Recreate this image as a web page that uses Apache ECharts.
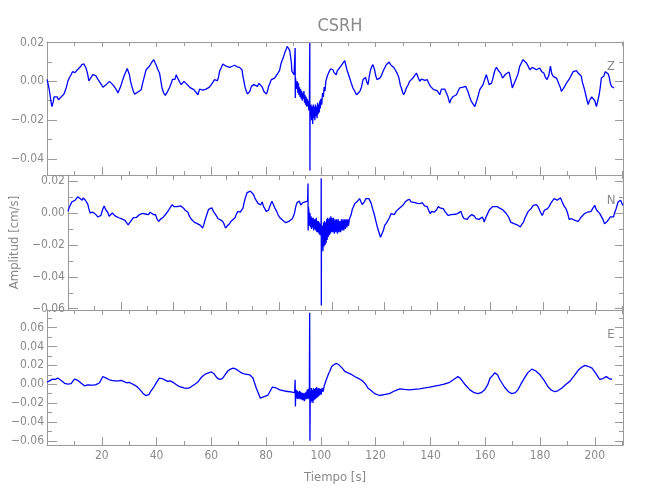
<!DOCTYPE html>
<html>
<head>
<meta charset="utf-8">
<script src="https://cdn.jsdelivr.net/npm/echarts@6/dist/echarts.min.js"></script>
<style>
html,body{margin:0;padding:0;background:#fff;}
#chart{width:650px;height:500px;}
</style>
</head>
<body>
<div id="chart"></div>
<script>
// ---------------- DATA ----------------
const titleText = 'CSRH';
const componentNames = ['Z', 'N', 'E'];
const xLabel = 'Tiempo [s]';
const yLabel = 'Amplitud [cm/s]';
const timeRange = [0, 210.3];
const yRanges = [[-0.0483, 0.0203], [-0.0608, 0.0238], [-0.0645, 0.0787]];

// Z component [time s, amplitude cm/s]
const zTrace = [
[0,0.001],[0.5,-0.002],[0.9,-0.005],[1.4,-0.010],[1.8,-0.013],[2.2,-0.011],[2.6,-0.008],[3.2,-0.009],[3.7,-0.008],[4.2,-0.0095],[4.6,-0.0085],[5.2,-0.008],[5.8,-0.007],[6.2,-0.0065],[6.6,-0.006],[7.1,-0.003],[7.6,0.000],[8.2,0.002],[8.8,0.0034],[9.3,0.005],[9.8,0.0055],[10.2,0.0045],[10.6,0.0042],[11.1,0.006],[11.6,0.0069],[12.2,0.0075],[12.7,0.0086],[13.1,0.0082],[13.5,0.009],[13.9,0.008],[14.3,0.0066],[14.8,0.004],[15.3,0.0003],[15.7,0.001],[16.1,0.002],[16.7,0.0035],[17.4,0.0043],[17.8,0.003],[18.3,0.002],[18.7,0.0008],[19.2,0.000],[19.8,-0.0015],[20.4,-0.003],[21.0,-0.0025],[21.6,-0.0017],[22.2,-0.0012],[22.8,0.000],[23.4,-0.001],[24.0,-0.0017],[24.5,-0.0025],[24.9,-0.0034],[25.4,-0.0045],[25.9,-0.006],[26.5,-0.004],[27.1,-0.0017],[27.7,0.001],[28.3,0.0034],[28.8,0.005],[29.3,0.0066],[29.7,0.005],[30.1,0.0034],[30.5,0.000],[31.0,-0.0026],[31.5,-0.005],[32.0,-0.0066],[32.6,-0.0058],[33.2,-0.0055],[33.8,-0.0048],[34.4,-0.0043],[34.9,-0.001],[35.4,0.0017],[35.8,0.004],[36.2,0.006],[36.8,0.0068],[37.4,0.0078],[37.9,0.0088],[38.3,0.010],[38.7,0.0105],[39.0,0.0112],[39.5,0.0095],[39.9,0.0083],[40.5,0.006],[41.1,0.0043],[41.6,0.000],[42.0,-0.0034],[42.6,-0.006],[43.2,-0.0072],[43.7,-0.0065],[44.1,-0.005],[44.8,-0.003],[45.4,-0.0009],[45.8,0.001],[46.3,0.002],[46.7,0.001],[47.2,0.0034],[47.6,0.002],[48.0,0.0009],[48.5,-0.0005],[49.0,-0.0017],[49.5,-0.0008],[50.0,0.000],[50.6,-0.001],[51.2,-0.0017],[51.8,-0.0025],[52.4,-0.0034],[53.0,-0.004],[53.6,-0.0043],[54.3,-0.005],[55.1,-0.0069],[55.7,-0.004],[56.3,-0.0034],[56.9,-0.0045],[57.5,-0.0038],[58.1,-0.004],[58.7,-0.0043],[59.3,-0.003],[60.0,-0.0017],[60.6,-0.001],[61.2,0.0009],[61.7,0.0005],[62.2,0.0003],[62.6,0.002],[63.0,0.0052],[63.6,0.007],[64.2,0.009],[64.8,0.0085],[65.4,0.0078],[66.0,0.0082],[66.7,0.0072],[67.6,0.0078],[68.5,0.0083],[69.4,0.0075],[70.3,0.0072],[70.8,0.0065],[71.2,0.006],[71.5,0.003],[71.9,0.000],[72.3,-0.003],[72.8,-0.0052],[73.2,-0.0065],[73.6,-0.0072],[74.1,-0.005],[74.6,-0.0026],[75.0,-0.003],[75.5,-0.0017],[76.2,-0.0025],[76.8,-0.0026],[77.4,-0.001],[78.0,-0.0014],[78.6,-0.003],[79.2,-0.0052],[79.7,-0.006],[80.1,-0.0066],[80.5,-0.005],[80.9,-0.0026],[81.4,-0.001],[81.9,0.0009],[82.5,0.0012],[83.1,0.0017],[83.7,0.003],[84.3,0.0034],[84.9,0.0055],[85.5,0.0095],[86.2,0.012],[86.8,0.0147],[87.3,0.0165],[87.7,0.018],[88.2,0.019],[88.6,0.016],[89.0,0.0155],[89.2,0.010],[89.4,0.0052],[89.8,0.0045],[90.2,0.0034],
[90.5,0.003],[90.6,0.0172],[90.65,-0.0086],[90.7,0.002],
[91.0,0.001],[91.2,-0.004],[91.4,0.000],[91.6,-0.006],[91.8,-0.001],[92.0,-0.007],[92.2,-0.003],[92.4,-0.008],[92.6,-0.004],[92.8,-0.009],[93.0,-0.005],[93.2,-0.010],[93.4,-0.006],[93.6,-0.009],[93.8,-0.005],[94.0,-0.011],[94.2,-0.007],[94.4,-0.012],[94.6,-0.008],[94.8,-0.013],[95.0,-0.009],[95.2,-0.013],[95.4,-0.010],[95.6,-0.015],[95.8,-0.011],[95.95,0.0198],[96.0,-0.046],[96.05,-0.012],[96.2,-0.018],[96.4,-0.012],[96.6,-0.020],[96.8,-0.013],[97.0,-0.022],[97.2,-0.012],[97.4,-0.019],[97.6,-0.013],[97.8,-0.020],[98.0,-0.012],[98.2,-0.018],[98.4,-0.013],[98.6,-0.019],[98.8,-0.011],[99.0,-0.017],[99.2,-0.012],[99.4,-0.016],[99.6,-0.010],[99.8,-0.014],[100.0,-0.009],[100.3,-0.012],[100.6,-0.006],[100.9,-0.008],[101.2,-0.003],[101.5,-0.005],[101.8,0.000],[102.1,-0.001],[102.4,0.003],[102.7,0.002],[103.0,0.005],[103.3,0.004],[103.6,0.0065],[104.0,0.0055],[104.4,0.006],[104.8,0.0045],[105.2,0.005],[105.6,0.0034],[106.0,0.0055],[106.4,0.005],[106.8,0.0069],[107.2,0.0065],[107.6,0.0085],[108.1,0.0095],[108.7,0.0107],
[109.5,0.006],[110.5,0.0017],[111.1,-0.001],[111.7,-0.0034],[112.3,-0.005],[113.0,-0.0069],[113.6,-0.006],[114.2,-0.0052],[114.8,-0.003],[115.4,0.0009],[115.9,0.0017],[116.3,0.002],[116.8,-0.0005],[117.2,-0.0017],[117.6,0.002],[118.0,0.0052],[118.5,0.0075],[119.0,0.0086],[119.6,0.006],[120.0,0.003],[120.5,0.0009],[121.0,0.0012],[121.5,0.0017],[122.1,0.003],[122.7,0.0052],[123.3,0.007],[123.9,0.0086],[124.4,0.0095],[124.9,0.010],[125.5,0.0085],[126.1,0.0078],[126.7,0.007],[127.3,0.006],[127.9,0.004],[128.5,0.0017],[129.0,-0.002],[129.4,-0.0034],[129.8,-0.0055],[130.2,-0.0069],[130.7,-0.0055],[131.2,-0.0034],[131.8,-0.002],[132.4,0.000],[133.0,0.0009],[133.6,0.0017],[134.2,0.003],[134.9,0.0043],[135.5,0.002],[136.1,0.000],[136.7,0.0012],[137.3,0.0017],[138.0,0.0005],[138.8,0.0009],[139.4,-0.001],[140.0,-0.0026],[140.6,-0.003],[141.2,-0.0043],[141.8,-0.004],[142.4,-0.0048],[142.9,-0.0055],[143.4,-0.0069],[144.0,-0.004],[144.6,-0.0034],[145.2,-0.004],[145.8,-0.0043],[146.4,-0.008],[147.0,-0.0112],[147.6,-0.009],[148.3,-0.0078],[148.9,-0.007],[149.5,-0.0069],[150.1,-0.005],[150.7,-0.0034],[151.3,-0.003],[151.9,-0.003],[152.4,-0.0025],[152.9,-0.0026],[153.3,-0.004],[153.7,-0.0052],[154.3,-0.008],[154.9,-0.0103],[155.5,-0.0115],[156.2,-0.013],[156.6,-0.012],[157.0,-0.0095],[157.5,-0.007],[158.0,-0.0043],[158.6,-0.003],[159.2,-0.0017],[159.8,0.001],[160.4,0.0034],[160.9,0.001],[161.4,-0.0017],[161.8,-0.001],[162.3,-0.0009],[162.7,0.001],[163.1,0.0034],[163.6,0.006],[164.1,0.0072],[164.6,0.006],[165.1,0.0052],[165.7,0.004],[166.3,0.0017],[166.9,0.0025],[167.5,0.0038],[168.1,0.004],[168.7,0.0048],[169.3,0.001],[169.9,-0.0034],[170.6,-0.001],[171.4,0.0017],[172.0,0.004],[172.6,0.0078],[173.2,0.0095],[173.8,0.0112],[174.4,0.0105],[175.0,0.0095],[175.6,0.008],[176.3,0.006],[176.7,0.0065],[177.2,0.0072],[177.9,0.0065],[178.7,0.006],[179.3,0.007],[179.9,0.0069],[180.6,0.005],[181.4,0.0043],[182.0,0.002],[182.6,0.0009],[183.2,0.003],[183.8,0.0078],[184.3,0.004],[184.8,0.0026],[185.4,0.0017],[186.0,0.0017],[186.5,0.000],[187.0,-0.0017],[187.4,-0.003],[187.8,-0.0052],[188.4,-0.004],[189.0,-0.0026],[189.6,-0.001],[190.3,0.000],[190.9,0.0017],[191.5,0.0034],[192.1,0.005],[192.7,0.006],[193.3,0.0055],[193.9,0.0043],[194.5,0.004],[195.1,0.0026],[195.4,0.000],[195.7,-0.0009],[196.2,-0.004],[196.7,-0.0069],[197.2,-0.010],[197.6,-0.012],[198.0,-0.010],[198.4,-0.0095],[198.9,-0.008],[199.4,-0.0078],[200.0,-0.010],[200.6,-0.013],[201.1,-0.010],[201.6,-0.0069],[202.0,-0.003],[202.4,0.0017],[202.9,0.0025],[203.3,0.0026],[203.8,0.005],[204.3,0.006],[204.8,0.004],[205.2,0.0026],[205.7,-0.001],[206.1,-0.0026],[206.5,-0.0034],[207.0,-0.0034]
];

// N component
const nTrace = [
[0,0.001],[0.55,0.0038],[1.0,0.005],[1.5,0.007],[2.1,0.0075],[2.7,0.008],[3.2,0.009],[3.7,0.0101],[4.2,0.009],[4.6,0.0091],[5.0,0.0085],[5.4,0.008],[5.8,0.0095],[6.1,0.0101],[6.6,0.008],[7.0,0.007],[7.5,0.0055],[7.9,0.0027],[8.4,0.000],[8.8,-0.0004],[9.4,0.0005],[10.0,0.001],[10.6,-0.001],[11.3,-0.0025],[11.9,-0.002],[12.5,-0.0015],[13.1,0.002],[13.7,0.0044],[14.3,0.002],[15.0,0.0006],[15.6,-0.002],[16.1,-0.0025],[16.8,0.000],[17.4,0.0002],[18.0,-0.002],[18.6,-0.0025],[19.3,-0.003],[20.0,-0.0036],[20.8,-0.004],[21.6,-0.0046],[22.2,-0.006],[22.8,-0.0074],[23.4,-0.006],[24.0,-0.0057],[24.7,-0.003],[25.3,-0.0025],[25.9,-0.0028],[26.5,-0.0025],[27.1,-0.001],[27.7,-0.0011],[28.3,-0.0003],[28.9,-0.0004],[29.7,-0.0008],[30.5,-0.0011],[31.1,0.0005],[31.7,0.0002],[32.4,-0.001],[33.2,-0.0011],[33.8,-0.004],[34.4,-0.0053],[35.0,-0.004],[35.6,-0.0036],[36.2,-0.0025],[36.8,-0.0015],[37.4,0.000],[38.1,0.0017],[38.8,0.0035],[39.5,0.0053],[40.1,0.004],[40.7,0.0032],[41.3,0.004],[42.0,0.0038],[42.6,0.0045],[43.2,0.0044],[43.8,0.003],[44.4,0.0017],[44.9,0.001],[45.4,0.0006],[46.0,-0.002],[46.6,-0.0036],[47.2,-0.004],[47.8,-0.0057],[48.4,-0.006],[49.0,-0.0067],[49.6,-0.007],[50.2,-0.0078],[51.0,-0.0095],[51.5,-0.007],[52.1,-0.0036],[52.7,-0.0005],[53.3,0.0023],[53.9,0.003],[54.5,0.0032],[55.1,0.001],[55.7,-0.0004],[56.3,-0.002],[56.9,-0.0036],[57.5,-0.004],[58.1,-0.0046],[58.9,-0.006],[59.7,-0.0095],[60.4,-0.008],[61.2,-0.0067],[61.9,-0.005],[62.6,-0.0046],[63.3,-0.003],[63.9,-0.0004],[64.4,0.001],[64.8,0.0017],[65.3,0.0005],[65.8,-0.0004],[66.3,0.003],[66.8,0.007],[67.3,0.010],[67.9,0.0128],[68.5,0.013],[69.1,0.0137],[69.7,0.0128],[70.3,0.0116],[70.9,0.009],[71.5,0.0074],[72.0,0.006],[72.4,0.0048],[73.0,0.005],[73.6,0.007],[74.1,0.004],[74.6,0.0027],[75.1,0.001],[75.5,0.0006],[76.0,0.0017],[76.4,0.0038],[76.9,0.006],[77.3,0.0074],[77.9,0.005],[78.5,0.0027],[79.1,0.001],[79.7,-0.0015],[80.3,-0.003],[80.9,-0.0036],[81.7,-0.005],[82.5,-0.0061],[83.1,-0.0057],[83.7,-0.0053],[84.4,-0.0045],[85.0,-0.0036],[85.4,-0.002],[85.8,-0.0004],[86.3,0.004],[86.8,0.0065],[87.2,0.0072],[87.7,0.0074],[88.2,0.005],[88.6,0.0053],[89.0,0.0065],[89.4,0.0065],[89.9,0.007],[90.4,0.008],[90.8,0.0075],
[90.95,0.0185],[91.0,-0.011],[91.1,0.004],
[91.3,0.001],[91.5,-0.008],[91.7,0.000],[91.9,-0.009],[92.1,-0.002],[92.3,-0.010],[92.5,-0.003],[92.7,-0.009],[92.9,-0.003],[93.1,-0.011],[93.3,-0.004],[93.5,-0.010],[93.7,-0.004],[93.9,-0.011],[94.1,-0.003],[94.3,-0.012],[94.5,-0.005],[94.7,-0.012],[94.9,-0.005],[95.1,-0.013],[95.3,-0.006],[95.5,-0.014],[95.7,-0.007],[95.9,-0.012],[95.95,0.0217],[96.0,-0.058],[96.05,-0.010],[96.2,-0.022],[96.4,-0.008],[96.6,-0.024],[96.8,-0.006],[97.0,-0.021],[97.2,-0.005],[97.4,-0.020],[97.6,-0.006],[97.8,-0.019],[98.0,-0.004],[98.2,-0.017],[98.4,-0.003],[98.6,-0.015],[98.8,-0.004],[99.0,-0.014],[99.2,-0.003],[99.4,-0.013],[99.6,-0.002],[99.8,-0.012],[100.0,-0.003],[100.3,-0.012],[100.6,-0.003],[100.9,-0.013],[101.2,-0.004],[101.5,-0.012],[101.8,-0.004],[102.1,-0.013],[102.4,-0.004],[102.7,-0.012],[103.0,-0.005],[103.3,-0.012],[103.6,-0.004],[103.9,-0.011],[104.2,-0.004],[104.5,-0.011],[104.8,-0.004],[105.1,-0.010],[105.4,-0.004],[105.7,-0.009],[106.0,-0.004],[106.3,-0.008],[106.6,-0.004],[106.9,-0.0046],[107.3,-0.001],[107.8,0.0027],[108.2,0.004],[108.7,0.006],
[109.1,0.0065],[109.5,0.007],[110.0,0.008],[110.5,0.009],[111.0,0.007],[111.5,0.0053],[111.9,0.006],[112.3,0.007],[112.9,0.009],[113.6,0.0101],[114.0,0.009],[114.4,0.008],[114.9,0.006],[115.4,0.0027],[116.0,-0.0005],[116.6,-0.0046],[117.1,-0.008],[117.6,-0.011],[118.0,-0.013],[118.4,-0.0152],[119.0,-0.0158],[119.5,-0.011],[120.0,-0.0078],[120.6,-0.0065],[121.2,-0.0057],[121.8,-0.003],[122.4,-0.0004],[123.0,-0.001],[123.7,-0.001],[124.3,0.001],[124.9,0.0017],[125.6,0.003],[126.3,0.0038],[127.0,0.005],[127.8,0.007],[128.6,0.008],[129.4,0.0086],[130.0,0.007],[130.6,0.006],[131.5,0.0065],[132.4,0.006],[133.3,0.0058],[134.2,0.0065],[135.1,0.0045],[136.1,0.004],[136.7,0.0015],[137.3,-0.0004],[137.8,0.001],[138.3,0.0017],[138.7,0.0005],[139.1,-0.0004],[139.7,0.002],[140.3,0.004],[141.2,0.003],[142.2,0.0027],[142.8,0.001],[143.4,0.000],[144.0,-0.0015],[144.6,-0.0015],[145.2,-0.001],[145.8,-0.001],[146.7,-0.0008],[147.6,-0.0004],[148.3,0.0005],[148.9,0.001],[149.5,-0.002],[150.1,-0.0036],[150.7,-0.0038],[151.3,-0.004],[151.9,-0.0025],[152.5,-0.0025],[153.0,-0.001],[153.4,-0.0004],[154.0,-0.002],[154.6,-0.0036],[155.2,-0.0036],[155.8,-0.004],[156.4,-0.003],[157.0,-0.0025],[157.4,-0.004],[157.7,-0.0057],[158.3,-0.003],[159.0,-0.0004],[159.7,0.002],[160.4,0.0027],[160.9,0.004],[161.4,0.0038],[161.9,0.004],[162.3,0.0048],[162.7,0.004],[163.1,0.0038],[163.6,0.003],[164.1,0.0027],[164.7,0.002],[165.3,0.0017],[165.9,0.000],[166.5,-0.0004],[167.1,-0.003],[167.7,-0.0057],[168.3,-0.006],[169.0,-0.0067],[169.6,-0.006],[170.2,-0.0074],[170.8,-0.007],[171.4,-0.0088],[172.0,-0.007],[172.6,-0.0057],[173.2,-0.003],[173.8,-0.001],[174.4,0.001],[175.0,0.0017],[175.6,0.003],[176.3,0.0048],[176.9,0.005],[177.5,0.0053],[178.1,0.004],[178.7,0.0017],[179.2,0.000],[179.7,-0.0015],[180.1,0.000],[180.5,0.0017],[181.1,0.002],[181.7,0.0027],[182.3,0.004],[182.9,0.006],[183.5,0.007],[184.2,0.009],[184.8,0.008],[185.4,0.008],[186.0,0.009],[186.6,0.0095],[187.0,0.008],[187.5,0.006],[188.1,0.004],[188.7,0.0027],[189.3,0.000],[189.9,-0.004],[190.4,-0.0036],[190.9,-0.0036],[191.5,-0.004],[192.1,-0.0046],[192.7,-0.005],[193.3,-0.0053],[193.9,-0.004],[194.5,-0.0025],[195.1,-0.0015],[195.7,-0.0004],[196.3,0.000],[197.0,0.0006],[197.6,0.001],[198.2,0.001],[198.9,0.003],[199.6,0.0048],[200.2,0.002],[200.9,0.001],[201.5,-0.0004],[202.1,-0.0015],[202.7,-0.004],[203.3,-0.0067],[203.8,-0.006],[204.3,-0.0053],[204.9,-0.004],[205.5,-0.0025],[206.1,-0.0025],[206.7,-0.0025],[207.2,0.0005],[207.7,0.0027],[208.1,0.005],[208.5,0.007],[209.0,0.008],[209.4,0.008],[209.9,0.006],[210.3,0.0048]
];

// E component
const eTrace = [
[0,0.002],[0.3,0.003],[1.2,0.004],[2.1,0.0054],[3.0,0.005],[3.9,0.0065],[4.5,0.006],[5.2,0.004],[5.8,0.003],[6.4,0.001],[7.0,0.0005],[7.6,0.000],[8.2,0.001],[8.8,0.0005],[9.4,0.003],[10.0,0.0054],[10.6,0.005],[11.3,0.004],[11.9,0.003],[12.5,0.001],[13.1,0.000],[13.7,-0.0017],[14.3,-0.0015],[14.9,-0.0007],[15.5,-0.0012],[16.1,-0.0009],[17.0,-0.001],[17.9,-0.0005],[18.5,0.000],[19.2,0.0015],[19.8,0.005],[20.4,0.0082],[21.0,0.007],[21.6,0.0065],[22.2,0.006],[22.8,0.0047],[23.7,0.004],[24.7,0.0035],[25.4,0.003],[26.2,0.0035],[27.0,0.004],
[28,0.003],[29,0.0015],[30,0.002],[31,0.0005],[32,-0.001],[33,-0.003],[34,-0.006],[35,-0.0095],[36,-0.012],[36.6,-0.013],[37.2,-0.011],[38,-0.007],[39,-0.003],[40,0.002],[41,0.0065],[42,0.006],[43,0.0045],[44,0.003],[45,0.0035],[46,0.002],[47,0.000],[48,-0.002],[49,-0.003],[50,-0.004],[51,-0.0045],[52,-0.004],[53,-0.002],[54,0.000],[55,0.002],[56,0.006],[57,0.009],[58,0.011],[59,0.012],[60,0.013],[61,0.011],[62,0.007],[63,0.005],[64,0.006],[65,0.010],[66,0.014],[67,0.016],[68,0.017],[69,0.016],[70,0.014],[71,0.012],[72,0.011],[73,0.0105],[74,0.010],[75.2,0.0065],[76.4,-0.004],[77.9,-0.0148],[79.5,-0.013],[80.7,-0.0115],[82.3,-0.003],[83.7,-0.004],[85,-0.006],[86.1,-0.0067],[87.3,-0.0075],[88.6,-0.008],[89.5,-0.0085],[90.4,-0.009],
[90.6,0.0047],[90.7,-0.0237],[90.8,-0.009],
[91.0,-0.006],[91.2,-0.015],[91.4,-0.007],[91.6,-0.016],[91.8,-0.008],[92.0,-0.015],[92.2,-0.007],[92.4,-0.016],[92.6,-0.008],[92.8,-0.016],[93.0,-0.009],[93.2,-0.017],[93.4,-0.009],[93.6,-0.017],[93.8,-0.010],[94.0,-0.018],[94.2,-0.009],[94.4,-0.016],[94.6,-0.008],[94.8,-0.016],[95.0,-0.006],[95.2,-0.015],[95.4,-0.005],[95.6,-0.016],[95.8,-0.004],[95.9,0.0757],[96.0,-0.060],[96.1,-0.012],[96.3,-0.020],[96.5,-0.004],[96.7,-0.018],[96.9,-0.006],[97.1,-0.020],[97.3,-0.004],[97.5,-0.017],[97.7,-0.005],[97.9,-0.016],[98.1,-0.004],[98.3,-0.015],[98.5,-0.003],[98.7,-0.014],[98.9,-0.005],[99.1,-0.013],[99.3,-0.004],[99.5,-0.012],[99.8,-0.005],[100.1,-0.011],[100.4,-0.004],[100.8,-0.008],[101.2,-0.002],[101.6,-0.002],[102.0,0.005],[102.4,0.007],[102.8,0.011],[103.2,0.0135],[103.6,0.015],[104.0,0.019],[104.4,0.0189],[104.9,0.021],[105.4,0.0231],[105.8,0.022],[106.2,0.0215],[106.8,0.020],[107.5,0.019],[108.1,0.016],[108.7,0.0135],[109.3,0.013],[109.9,0.012],[110.5,0.011],[111.1,0.0105],[111.7,0.009],[112.3,0.0082],[112.9,0.0075],[113.5,0.0065],[114.4,0.005],[115.4,0.003],[116.3,0.000],[117.2,-0.0042],[118,-0.006],[119.6,-0.010],[121.5,-0.012],[123,-0.011],[125,-0.010],[127,-0.007],[128.8,-0.005],[130.5,-0.0055],[132.4,-0.006],[134,-0.0055],[136,-0.005],[138,-0.004],[139.8,-0.003],[141.5,-0.002],[143.4,-0.001],[145,0.000],[147,0.002],[148.5,0.005],[150,0.008],[151,0.006],[152.5,0.000],[154.4,-0.006],[156,-0.009],[157.3,-0.010],[158.5,-0.009],[159.8,-0.006],[161,0.000],[161.7,0.006],[163.5,0.012],[164.5,0.010],[165.3,0.005],[167,-0.003],[168.5,-0.008],[169.7,-0.010],[171,-0.009],[171.9,-0.006],[173,0.000],[174.4,0.007],[175.5,0.012],[177,0.016],[178.5,0.014],[180,0.010],[181.5,0.004],[183,-0.003],[184,-0.006],[185.4,-0.008],[186.5,-0.007],[188,-0.004],[189.5,0.000],[190.9,0.003],[192.5,0.009],[194,0.015],[195.2,0.018],[196.4,0.020],[197.5,0.019],[199,0.017],[200.5,0.011],[201.8,0.005],[203,0.006],[204.2,0.008],[205.2,0.006],[206.3,0.005]
];

const traces = [zTrace, nTrace, eTrace];

// ---------------- LAYOUT / STYLE ----------------
const FONT = "'Liberation Sans Narrow','DejaVu Sans Condensed','Liberation Sans',sans-serif";
const GREY = '#8a8a8a';
const AXIS = '#9a9a9a';
const grids = [
  {left: 47, right: 27, top: 42, height: 133},
  {left: 47, right: 27, top: 175, height: 135},
  {left: 47, right: 27, top: 310, height: 135}
];
const ySplit = [3, 4, 7];

function yFmt(v) {
  const k = Math.round(v * 100);
  if (Math.abs(v * 100 - k) > 1e-6 || k % 2 !== 0) return '';
  return (k < 0 ? '\u2212' : '') + (Math.abs(k) / 100).toFixed(2);
}

const xAxes = [], yAxes = [], series = [];
grids.forEach((g, i) => {
  const common = {
    type: 'value', gridIndex: i, min: timeRange[0], max: timeRange[1], interval: 20,
    axisLine: {show: true, onZero: false, lineStyle: {color: AXIS, width: 1}},
    splitLine: {show: false},
    minorTick: {show: true, splitNumber: 2, length: 4, lineStyle: {color: AXIS}},
    axisTick: {show: true, inside: true, length: 8, lineStyle: {color: AXIS}}
  };
  xAxes.push(Object.assign({}, common, {
    position: 'bottom',
    name: i === 2 ? xLabel : '',
    nameLocation: 'middle', nameGap: 26,
    nameTextStyle: {color: GREY, fontFamily: FONT, fontSize: 13},
    axisLabel: {show: i === 2, color: GREY, fontFamily: FONT, fontSize: 12, margin: 5,
      showMinLabel: false, showMaxLabel: false,
      formatter: v => (v > 0 && v % 20 === 0) ? String(v) : ''}
  }));
  xAxes.push(Object.assign({}, common, {
    position: 'top', axisLabel: {show: false},
    axisTick: {show: true, inside: true, length: 5, lineStyle: {color: AXIS}}
  }));
  const ycommon = {
    type: 'value', gridIndex: i, min: yRanges[i][0], max: yRanges[i][1], splitNumber: ySplit[i],
    axisLine: {show: true, onZero: false, lineStyle: {color: AXIS, width: 1}},
    splitLine: {show: false},
    minorTick: {show: true, splitNumber: 2, length: 5, lineStyle: {color: AXIS}},
    axisTick: {show: true, inside: true, length: 10, lineStyle: {color: AXIS}}
  };
  yAxes.push(Object.assign({}, ycommon, {
    position: 'left',
    name: i === 1 ? yLabel : '',
    nameLocation: 'middle', nameGap: 39, nameRotate: 90,
    nameTextStyle: {color: GREY, fontFamily: FONT, fontSize: 13},
    axisLabel: {show: true, color: GREY, fontFamily: FONT, fontSize: 12, margin: 3, formatter: yFmt}
  }));
  yAxes.push(Object.assign({}, ycommon, {
    position: 'right', axisLabel: {show: false},
    axisTick: {show: true, inside: true, length: 8, lineStyle: {color: AXIS}},
    minorTick: {show: true, splitNumber: 2, length: 4, lineStyle: {color: AXIS}}
  }));
  series.push({
    type: 'line', xAxisIndex: 2 * i, yAxisIndex: 2 * i,
    data: traces[i], showSymbol: false, symbol: 'none', clip: true,
    lineStyle: {color: '#0000ff', width: 1.3}, animation: false
  });
});

const titles = [{
  text: titleText, left: 335, top: 12, textAlign: 'center',
  textStyle: {color: GREY, fontFamily: FONT, fontSize: 18, fontWeight: 'normal'}
}];
const letterTops = [55, 189, 323];
componentNames.forEach((c, i) => titles.push({
  text: c, left: 606, top: letterTops[i], textAlign: 'center',
  textStyle: {color: GREY, fontFamily: FONT, fontSize: 13, fontWeight: 'normal'}
}));

const chart = echarts.init(document.getElementById('chart'), null, {renderer: 'canvas'});
chart.setOption({
  backgroundColor: '#ffffff',
  animation: false,
  title: titles,
  grid: grids,
  xAxis: xAxes,
  yAxis: yAxes,
  series: series
});
</script>
</body>
</html>
